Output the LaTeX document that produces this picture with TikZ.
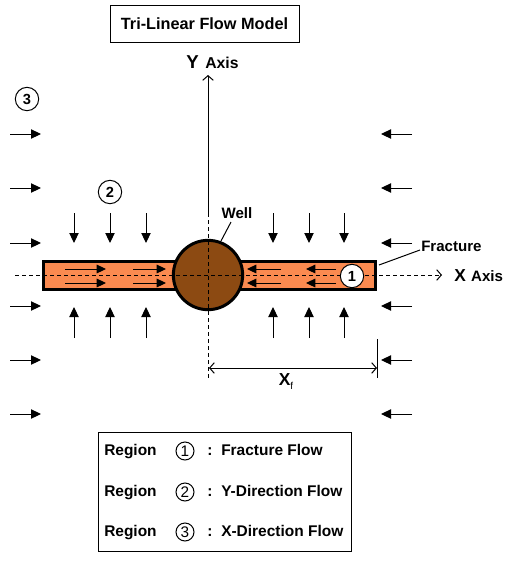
\documentclass[tikz,border=0pt]{standalone}
\usepackage{fontspec}
\setmainfont{Liberation Sans}
\usetikzlibrary{arrows.meta}
\definecolor{fraccol}{RGB}{250,138,80}
\definecolor{wellcol}{RGB}{140,74,18}
\begin{document}
\begin{tikzpicture}[x=0.75pt,y=-0.75pt,
  flow/.style={line width=0.75pt,-{Triangle[length=7.5pt,width=7pt]}},
  inflow/.style={line width=0.75pt,-{Triangle[length=7pt,width=6.5pt]}},
  axisarrow/.style={line width=0.75pt,-{Straight Barb[length=3.5pt,width=8pt]}},
  dimarrow/.style={line width=0.75pt,{Straight Barb[length=3.5pt,width=8pt]}-{Straight Barb[length=3.5pt,width=8pt]}},
  dashline/.style={line width=0.75pt,dash pattern=on 3pt off 2.25pt},
  num/.style={circle,draw,line width=0.75pt,fill=white,inner sep=0pt,minimum size=17.5pt,font=\bfseries\fontsize{11}{11}\selectfont},
  legnum/.style={circle,draw,line width=0.75pt,fill=white,inner sep=0pt,minimum size=13.5pt,font=\fontsize{11.5}{12}\selectfont},
  lbl/.style={inner sep=0pt,font=\bfseries\fontsize{11.3}{13}\selectfont},
  legtxt/.style={inner sep=0pt,anchor=west,font=\bfseries\fontsize{11.6}{14}\selectfont}]
\useasboundingbox (0,0) rectangle (513,565);
\fill[white] (0,0) rectangle (513,565);

% title
\node[draw,line width=0.75pt,minimum width=141.75pt,minimum height=27.75pt,inner sep=0pt,
  font=\bfseries\fontsize{12.2}{14}\selectfont] (title) at (204.5,23.5) {Tri-Linear Flow Model};

% fracture and well
\node[draw,line width=2.25pt,fill=fraccol,minimum width=249pt,minimum height=21.5pt,inner sep=0pt] (frac) at (209.5,275.5) {};
\node[circle,draw,line width=2.25pt,fill=wellcol,minimum size=52pt,inner sep=0pt] (well) at (208,275) {};

% axes
\coordinate (xl) at (15,275);
\coordinate (xr) at (442,275);
\draw[dashline,-{Straight Barb[length=3.5pt,width=8pt]}] (xl) -- (xr);
\coordinate (ytop) at (208,75);
\coordinate (ymid) at (208,213);
\coordinate (ybot) at (208,380);
\draw[axisarrow] (ymid) -- (ytop);
\draw[dashline] (ymid) -- (ybot);
\node[inner sep=0pt,anchor=base west] (ylab) at (186,68) {\bfseries{\fontsize{14}{14}\selectfont Y}\hspace{5pt}{\fontsize{11.8}{12}\selectfont Axis}};
\node[inner sep=0pt,anchor=base west] (xlab) at (454,281) {\bfseries{\fontsize{13}{14}\selectfont X}\hspace{4pt}{\fontsize{11.3}{12}\selectfont Axis}};

% flow inside fracture
\foreach \y [count=\k] in {269,283}{
  \coordinate (la\k) at (65,\y);  \coordinate (lb\k) at (106,\y);
  \coordinate (lc\k) at (133,\y); \coordinate (ld\k) at (166,\y);
  \coordinate (ra\k) at (281,\y); \coordinate (rb\k) at (247,\y);
  \coordinate (rc\k) at (336,\y); \coordinate (rd\k) at (306,\y);
  \draw[inflow] (la\k) -- (lb\k);
  \draw[inflow] (lc\k) -- (ld\k);
  \draw[inflow] (ra\k) -- (rb\k);
  \draw[inflow] (rc\k) -- (rd\k);
}
\node[num] (n1) at (352,276) {1};

% y-direction flow
\foreach \x [count=\k] in {74,110,146,273,309,344}{
  \coordinate (da\k) at (\x,213); \coordinate (db\k) at (\x,243);
  \coordinate (ua\k) at (\x,338); \coordinate (ub\k) at (\x,307);
  \draw[flow] (da\k) -- (db\k);
  \draw[flow] (ua\k) -- (ub\k);
}
% x-direction flow
\foreach \y [count=\k] in {134,188,243,306,360,414}{
  \coordinate (ea\k) at (10,\y); \coordinate (eb\k) at (41,\y);
  \coordinate (fa\k) at (412,\y); \coordinate (fb\k) at (381,\y);
  \draw[flow] (ea\k) -- (eb\k);
  \draw[flow] (fa\k) -- (fb\k);
}
\node[num] (n2) at (110,192) {2};
\node[num] (n3) at (27,99) {3};

% labels
\node[lbl] (welllab) at (237,213) {Well};
\coordinate (wellpt) at (221,241);
\draw[line width=0.75pt] (231,222) -- (wellpt);
\node[lbl,anchor=west] (fraclab) at (421,246) {Fracture};
\coordinate (fracpt) at (379,265);
\draw[line width=0.75pt] (fracpt) -- (420,250);

% Xf dimension
\coordinate (tickt) at (377,339);
\coordinate (tickb) at (377,378);
\draw[line width=0.75pt] (tickt) -- (tickb);
\coordinate (dl) at (209,368);
\coordinate (dr) at (377,368);
\draw[dimarrow] (dl) -- (dr);
\node[inner sep=0pt] (xf) at (286,382) {\bfseries\fontsize{13}{14}\selectfont X\raisebox{-3pt}{\mdseries\fontsize{7.5}{8}\selectfont f}};

% legend
\node[draw,line width=0.75pt,minimum width=189.75pt,minimum height=89.25pt,inner sep=0pt] (legend) at (224.5,491.5) {};
\foreach \y/\n/\t [count=\k] in {450/1/Fracture Flow,491/2/Y-Direction Flow,531/3/X-Direction Flow}{
  \node[legtxt,anchor=base west] (reg\k) at (104,\y+5) {Region};
  \node[legnum] (lc\k) at (185,\y+1) {\n};
  \node[legtxt,anchor=base west] (col\k) at (207,\y+5) {:};
  \node[legtxt,anchor=base west] (lt\k) at (221,\y+5) {\t};
}
\end{tikzpicture}
\end{document}
